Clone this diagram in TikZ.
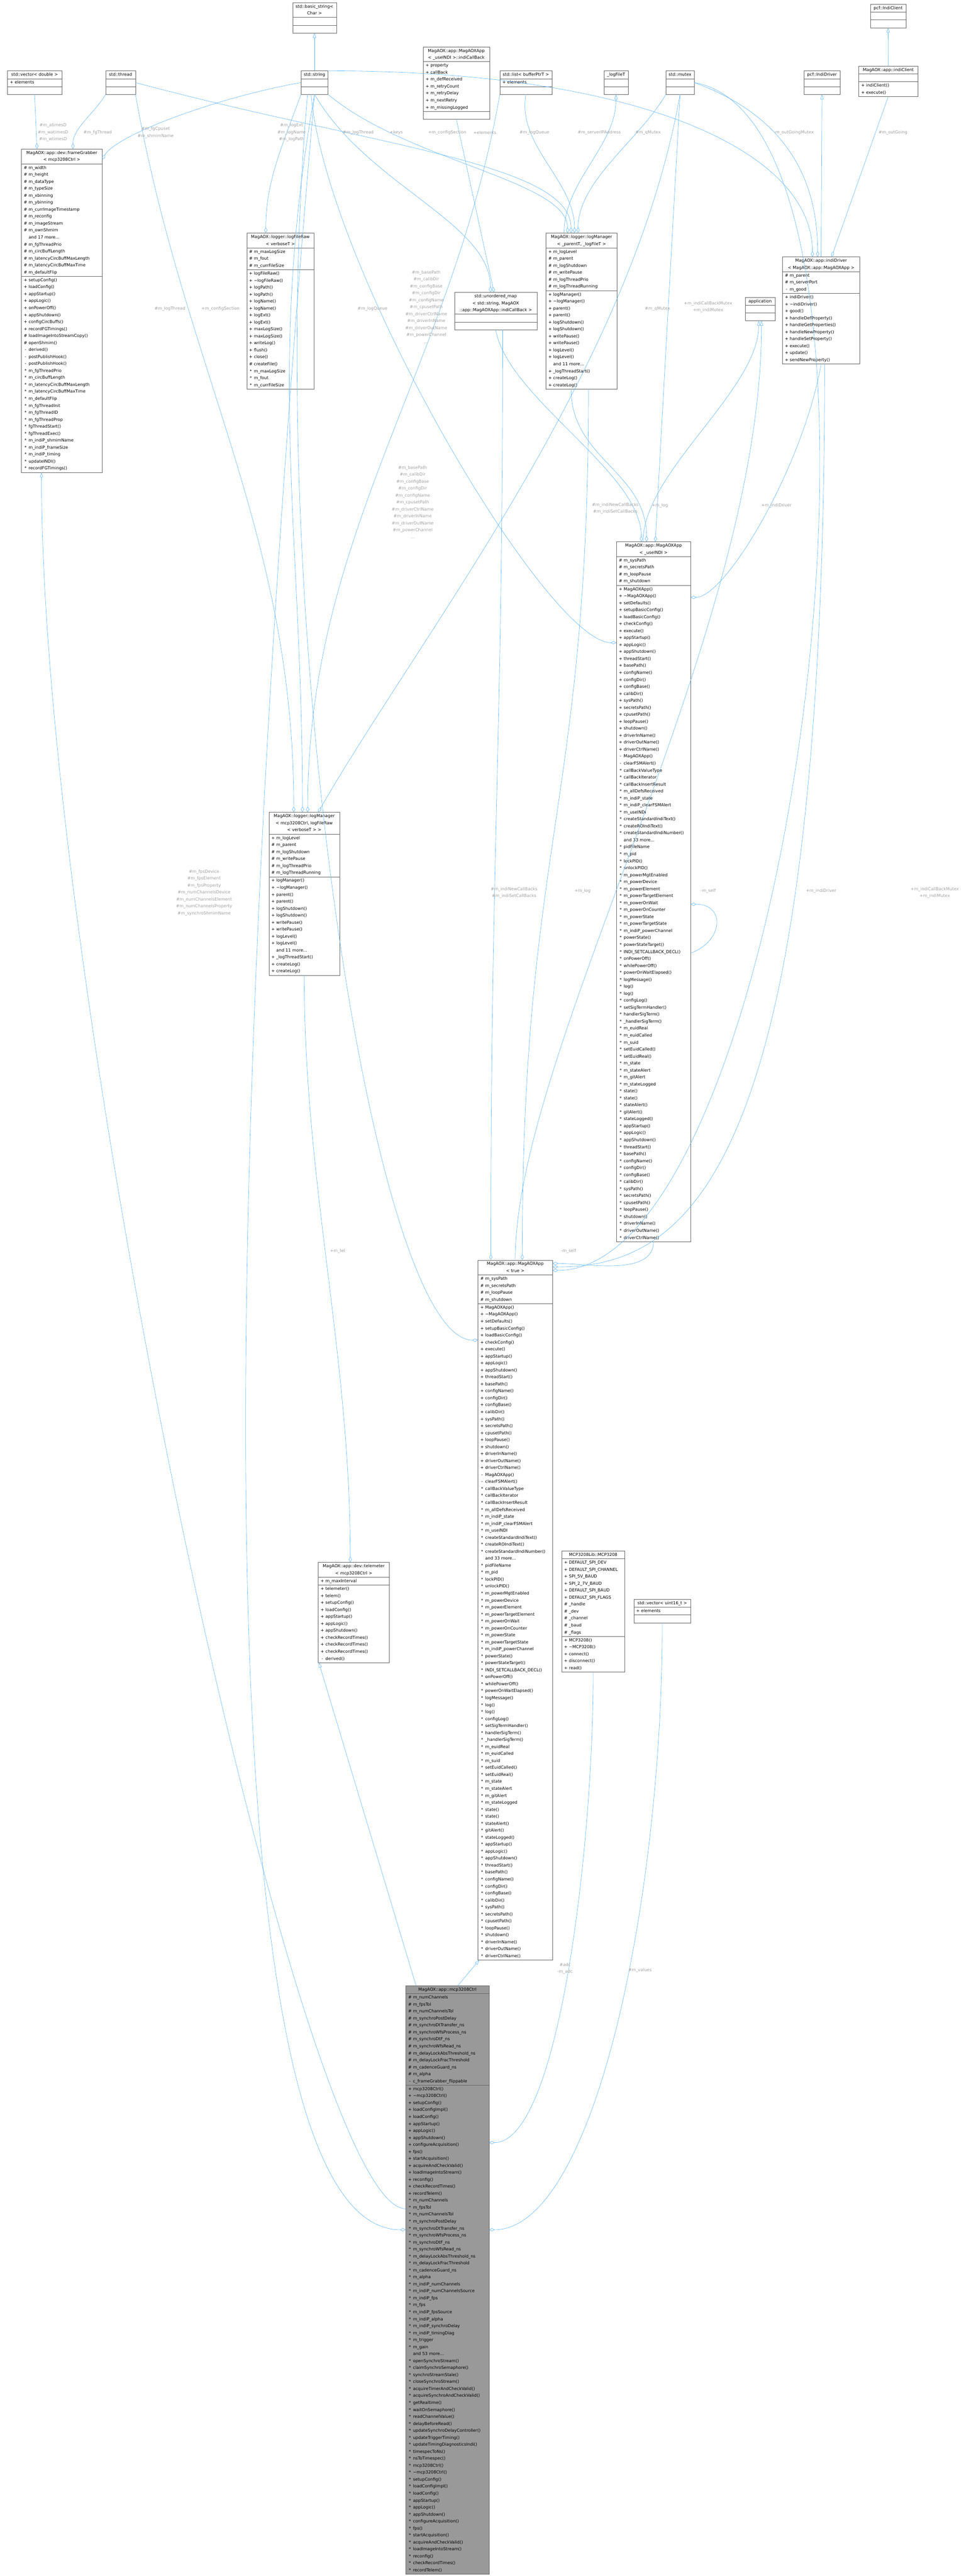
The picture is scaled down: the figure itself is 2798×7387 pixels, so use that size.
\documentclass[tikz,border=0pt]{standalone}
\usepackage{fontspec}
\setmainfont{DejaVu Sans}
\usepackage{tikz}
\usetikzlibrary{arrows.meta,shapes.multipart}
\definecolor{EdgeBlue}{RGB}{99,184,255}
\definecolor{LabelGray}{RGB}{160,160,160}
\definecolor{BoxLine}{RGB}{102,102,102}
\definecolor{CurGray}{RGB}{153,153,153}
\newcommand\clsfont{\fontsize{12}{20}\selectfont}
\newcommand\rw[2]{\strut\makebox[18pt][c]{#1}#2\par}
\newcommand\ttl[1]{{\centering\strut #1\strut\par}}
\newcommand\nil{\strut\par}
\tikzset{
  cls/.style={draw=BoxLine, fill=white, rectangle split, rectangle split parts=3,
    rectangle split draw splits=true, inner xsep=3pt, inner ysep=1pt, font=\clsfont,
    anchor=north west, text width=#1-7pt},
  agg/.style={draw=EdgeBlue, line width=0.9pt, -{Diamond[open,length=16pt,width=9pt]}},
  inh/.style={draw=EdgeBlue, line width=0.9pt, -{Triangle[open,length=14pt,width=9pt]}},
  lbl/.style={text=LabelGray, font=\clsfont, align=center, inner sep=0pt}
}
\begin{document}
\catcode`\_=12
\begin{tikzpicture}[x=1pt,y=-1pt]
\fill[white] (0,0) rectangle (2798,7387);
\useasboundingbox (0,0) rectangle (2798,7387);
% top row
\node[cls=126] (bstr) at (839,7) {\ttl{std::basic_string<\par Char >}\nodepart{two}\nil\nodepart{three}\nil};
\node[cls=157] (vecd) at (21,203) {\ttl{std::vector< double >}\nodepart{two}\rw{+}{elements}\nodepart{three}\nil};
\node[cls=86] (thr) at (303,203) {\ttl{std::thread}\nodepart{two}\nil\nodepart{three}\nil};
\node[cls=78] (str) at (863,203) {\ttl{std::string}\nodepart{two}\nil\nodepart{three}\nil};
\node[cls=191] (icb) at (1213,134) {\ttl{MagAOX::app::MagAOXApp\par < _useINDI >::indiCallBack}\nodepart{two}
 \rw{+}{property}\rw{+}{callBack}\rw{+}{m_defReceived}\rw{+}{m_retryCount}\rw{+}{m_retryDelay}\rw{+}{m_nextRetry}\rw{+}{m_missingLogged}\nodepart{three}\nil};
\node[cls=150] (lst) at (1433,203) {\ttl{std::list< bufferPtrT >}\nodepart{two}\rw{+}{elements}\nodepart{three}\nil};
\node[cls=71] (lft) at (1731,203) {\ttl{_logFileT}\nodepart{two}\nil\nodepart{three}\nil};
\node[cls=82] (mtx) at (1909,203) {\ttl{std::mutex}\nodepart{two}\nil\nodepart{three}\nil};
\node[cls=104] (pidrv) at (2305,203) {\ttl{pcf::IndiDriver}\nodepart{two}\nil\nodepart{three}\nil};
\node[cls=103] (piclt) at (2495,12) {\ttl{pcf::IndiClient}\nodepart{two}\nil\nodepart{three}\nil};
\node[cls=170] (iclt) at (2462,189) {\ttl{MagAOX::app::indiClient}\nodepart{two}\nil\nodepart{three}\rw{+}{indiClient()}\rw{+}{execute()}};
% frame grabber
\node[cls=233] (fg) at (61,427) {\ttl{MagAOX::app::dev::frameGrabber\par < mcp3208Ctrl >}\nodepart{two}
 \rw{\#}{m_width}\rw{\#}{m_height}\rw{\#}{m_dataType}\rw{\#}{m_typeSize}\rw{\#}{m_xbinning}\rw{\#}{m_ybinning}
 \rw{\#}{m_currImageTimestamp}\rw{\#}{m_reconfig}\rw{\#}{m_imageStream}\rw{\#}{m_ownShmim}\rw{}{and 17 more...}
 \rw{\#}{m_fgThreadPrio}\rw{\#}{m_circBuffLength}\rw{\#}{m_latencyCircBuffMaxLength}\rw{\#}{m_latencyCircBuffMaxTime}\rw{\#}{m_defaultFlip}
 \nodepart{three}
 \rw{+}{setupConfig()}\rw{+}{loadConfig()}\rw{+}{appStartup()}\rw{+}{appLogic()}\rw{+}{onPowerOff()}\rw{+}{appShutdown()}
 \rw{+}{configCircBuffs()}\rw{+}{recordFGTimings()}\rw{\#}{loadImageIntoStreamCopy()}\rw{\#}{openShmim()}\rw{-}{derived()}
 \rw{-}{postPublishHook()}\rw{-}{postPublishHook()}\rw{*}{m_fgThreadPrio}\rw{*}{m_circBuffLength}\rw{*}{m_latencyCircBuffMaxLength}
 \rw{*}{m_latencyCircBuffMaxTime}\rw{*}{m_defaultFlip}\rw{*}{m_fgThreadInit}\rw{*}{m_fgThreadID}\rw{*}{m_fgThreadProp}
 \rw{*}{fgThreadStart()}\rw{*}{fgThreadExec()}\rw{*}{m_indiP_shmimName}\rw{*}{m_indiP_frameSize}\rw{*}{m_indiP_timing}
 \rw{*}{updateINDI()}\rw{*}{recordFGTimings()}};
% log file
\node[cls=194] (lfr) at (707,668) {\ttl{MagAOX::logger::logFileRaw\par < verboseT >}\nodepart{two}
 \rw{\#}{m_maxLogSize}\rw{\#}{m_fout}\rw{\#}{m_currFileSize}\nodepart{three}
 \rw{+}{logFileRaw()}\rw{+}{\textasciitilde logFileRaw()}\rw{+}{logPath()}\rw{+}{logPath()}\rw{+}{logName()}\rw{+}{logName()}
 \rw{+}{logExt()}\rw{+}{logExt()}\rw{+}{maxLogSize()}\rw{+}{maxLogSize()}\rw{+}{writeLog()}\rw{+}{flush()}\rw{+}{close()}
 \rw{\#}{createFile()}\rw{*}{m_maxLogSize}\rw{*}{m_fout}\rw{*}{m_currFileSize}};
% log managers
\newcommand\lmattrs{\rw{+}{m_logLevel}\rw{\#}{m_parent}\rw{\#}{m_logShutdown}\rw{\#}{m_writePause}\rw{\#}{m_logThreadPrio}\rw{\#}{m_logThreadRunning}}
\newcommand\lmmeths{\rw{+}{logManager()}\rw{+}{\textasciitilde logManager()}\rw{+}{parent()}\rw{+}{parent()}\rw{+}{logShutdown()}\rw{+}{logShutdown()}
 \rw{+}{writePause()}\rw{+}{writePause()}\rw{+}{logLevel()}\rw{+}{logLevel()}\rw{}{and 11 more...}\rw{+}{_logThreadStart()}\rw{+}{createLog()}\rw{+}{createLog()}}
\node[cls=205] (lmp) at (1565,668) {\ttl{MagAOX::logger::logManager\par < _parentT, _logFileT >}\nodepart{two}\lmattrs\nodepart{three}\lmmeths};
\node[cls=203] (lmm) at (771,2329) {\ttl{MagAOX::logger::logManager\par < mcp3208Ctrl, logFileRaw\par < verboseT > >}\nodepart{two}\lmattrs\nodepart{three}\lmmeths};
% indi driver
\node[cls=223] (idrv) at (2243,736) {\ttl{MagAOX::app::indiDriver\par < MagAOX::app::MagAOXApp >}\nodepart{two}
 \rw{\#}{m_parent}\rw{\#}{m_serverPort}\rw{-}{m_good}\nodepart{three}
 \rw{+}{indiDriver()}\rw{+}{\textasciitilde indiDriver()}\rw{+}{good()}\rw{+}{handleDefProperty()}\rw{+}{handleGetProperties()}
 \rw{+}{handleNewProperty()}\rw{+}{handleSetProperty()}\rw{+}{execute()}\rw{+}{update()}\rw{+}{sendNewProperty()}};
\node[cls=237] (umap) at (1303,838) {\ttl{std::unordered_map\par < std::string, MagAOX\par ::app::MagAOXApp::indiCallBack >}\nodepart{two}\nil\nodepart{three}\nil};
\node[cls=87] (appl) at (2136,852) {\ttl{application}\nodepart{two}\nil\nodepart{three}\nil};
% MagAOXApp
\newcommand\appattrs{\rw{\#}{m_sysPath}\rw{\#}{m_secretsPath}\rw{\#}{m_loopPause}\rw{\#}{m_shutdown}}
\newcommand\appmeths{\rw{+}{MagAOXApp()}\rw{+}{\textasciitilde MagAOXApp()}\rw{+}{setDefaults()}\rw{+}{setupBasicConfig()}
 \rw{+}{loadBasicConfig()}\rw{+}{checkConfig()}\rw{+}{execute()}\rw{+}{appStartup()}\rw{+}{appLogic()}\rw{+}{appShutdown()}
 \rw{+}{threadStart()}\rw{+}{basePath()}\rw{+}{configName()}\rw{+}{configDir()}\rw{+}{configBase()}\rw{+}{calibDir()}
 \rw{+}{sysPath()}\rw{+}{secretsPath()}\rw{+}{cpusetPath()}\rw{+}{loopPause()}\rw{+}{shutdown()}\rw{+}{driverInName()}
 \rw{+}{driverOutName()}\rw{+}{driverCtrlName()}\rw{-}{MagAOXApp()}\rw{-}{clearFSMAlert()}\rw{*}{callBackValueType}
 \rw{*}{callBackIterator}\rw{*}{callBackInsertResult}\rw{*}{m_allDefsReceived}\rw{*}{m_indiP_state}\rw{*}{m_indiP_clearFSMAlert}
 \rw{*}{m_useINDI}\rw{*}{createStandardIndiText()}\rw{*}{createROIndiText()}\rw{*}{createStandardIndiNumber()}\rw{}{and 33 more...}
 \rw{*}{pidFileName}\rw{*}{m_pid}\rw{*}{lockPID()}\rw{*}{unlockPID()}\rw{*}{m_powerMgtEnabled}\rw{*}{m_powerDevice}
 \rw{*}{m_powerElement}\rw{*}{m_powerTargetElement}\rw{*}{m_powerOnWait}\rw{*}{m_powerOnCounter}\rw{*}{m_powerState}
 \rw{*}{m_powerTargetState}\rw{*}{m_indiP_powerChannel}\rw{*}{powerState()}\rw{*}{powerStateTarget()}\rw{*}{INDI_SETCALLBACK_DECL()}
 \rw{*}{onPowerOff()}\rw{*}{whilePowerOff()}\rw{*}{powerOnWaitElapsed()}\rw{*}{logMessage()}\rw{*}{log()}\rw{*}{log()}
 \rw{*}{configLog()}\rw{*}{setSigTermHandler()}\rw{*}{handlerSigTerm()}\rw{*}{_handlerSigTerm()}\rw{*}{m_euidReal}
 \rw{*}{m_euidCalled}\rw{*}{m_suid}\rw{*}{setEuidCalled()}\rw{*}{setEuidReal()}\rw{*}{m_state}\rw{*}{m_stateAlert}
 \rw{*}{m_gitAlert}\rw{*}{m_stateLogged}\rw{*}{state()}\rw{*}{state()}\rw{*}{stateAlert()}\rw{*}{gitAlert()}\rw{*}{stateLogged()}
 \rw{*}{appStartup()}\rw{*}{appLogic()}\rw{*}{appShutdown()}\rw{*}{threadStart()}\rw{*}{basePath()}\rw{*}{configName()}
 \rw{*}{configDir()}\rw{*}{configBase()}\rw{*}{calibDir()}\rw{*}{sysPath()}\rw{*}{secretsPath()}\rw{*}{cpusetPath()}
 \rw{*}{loopPause()}\rw{*}{shutdown()}\rw{*}{driverInName()}\rw{*}{driverOutName()}\rw{*}{driverCtrlName()}}
\node[cls=214] (appT) at (1767,1553) {\ttl{MagAOX::app::MagAOXApp\par < _useINDI >}\nodepart{two}\appattrs\nodepart{three}\appmeths};
\node[cls=215] (appt) at (1370,3613) {\ttl{MagAOX::app::MagAOXApp\par < true >}\nodepart{two}\appattrs\nodepart{three}\appmeths};
% lower boxes
\node[cls=205] (tel) at (912,4480) {\ttl{MagAOX::app::dev::telemeter\par < mcp3208Ctrl >}\nodepart{two}\rw{+}{m_maxInterval}\nodepart{three}
 \rw{+}{telemeter()}\rw{+}{telem()}\rw{+}{setupConfig()}\rw{+}{loadConfig()}\rw{+}{appStartup()}\rw{+}{appLogic()}
 \rw{+}{appShutdown()}\rw{+}{checkRecordTimes()}\rw{+}{checkRecordTimes()}\rw{+}{checkRecordTimes()}\rw{-}{derived()}};
\node[cls=182] (mcp) at (1610,4447) {\ttl{MCP3208Lib::MCP3208}\nodepart{two}
 \rw{+}{DEFAULT_SPI_DEV}\rw{+}{DEFAULT_SPI_CHANNEL}\rw{+}{SPI_5V_BAUD}\rw{+}{SPI_2_7V_BAUD}\rw{+}{DEFAULT_SPI_BAUD}
 \rw{+}{DEFAULT_SPI_FLAGS}\rw{\#}{_handle}\rw{\#}{_dev}\rw{\#}{_channel}\rw{\#}{_baud}\rw{\#}{_flags}\nodepart{three}
 \rw{+}{MCP3208()}\rw{+}{\textasciitilde MCP3208()}\rw{+}{connect()}\rw{+}{disconnect()}\rw{+}{read()}};
\node[cls=164] (vecu) at (1817,4586) {\ttl{std::vector< uint16_t >}\nodepart{two}\rw{+}{elements}\nodepart{three}\nil};
% current class
\newcommand\ctrlattrs[1]{\rw{#1}{m_numChannels}\rw{#1}{m_fpsTol}\rw{#1}{m_numChannelsTol}\rw{#1}{m_synchroPostDelay}
 \rw{#1}{m_synchroDtTransfer_ns}\rw{#1}{m_synchroWfsProcess_ns}\rw{#1}{m_synchroDtF_ns}\rw{#1}{m_synchroWfsRead_ns}
 \rw{#1}{m_delayLockAbsThreshold_ns}\rw{#1}{m_delayLockFracThreshold}\rw{#1}{m_cadenceGuard_ns}\rw{#1}{m_alpha}}
\newcommand\ctrlmeths[1]{\rw{#1}{mcp3208Ctrl()}\rw{#1}{\textasciitilde mcp3208Ctrl()}\rw{#1}{setupConfig()}\rw{#1}{loadConfigImpl()}
 \rw{#1}{loadConfig()}\rw{#1}{appStartup()}\rw{#1}{appLogic()}\rw{#1}{appShutdown()}\rw{#1}{configureAcquisition()}
 \rw{#1}{fps()}\rw{#1}{startAcquisition()}\rw{#1}{acquireAndCheckValid()}\rw{#1}{loadImageIntoStream()}\rw{#1}{reconfig()}
 \rw{#1}{checkRecordTimes()}\rw{#1}{recordTelem()}}
\node[cls=240, fill=CurGray] (ctrl) at (1163,5694) {\ttl{MagAOX::app::mcp3208Ctrl}\nodepart{two}\ctrlattrs{\#}\rw{-}{c_frameGrabber_flippable}
 \nodepart{three}\ctrlmeths{+}\ctrlattrs{*}
 \rw{*}{m_indiP_numChannels}\rw{*}{m_indiP_numChannelsSource}\rw{*}{m_indiP_fps}\rw{*}{m_fps}\rw{*}{m_indiP_fpsSource}
 \rw{*}{m_indiP_alpha}\rw{*}{m_indiP_synchroDelay}\rw{*}{m_indiP_timingDiag}\rw{*}{m_trigger}\rw{*}{m_gain}\rw{}{and 53 more...}
 \rw{*}{openSynchroStream()}\rw{*}{claimSynchroSemaphore()}\rw{*}{synchroStreamStale()}\rw{*}{closeSynchroStream()}
 \rw{*}{acquireTimerAndCheckValid()}\rw{*}{acquireSynchroAndCheckValid()}\rw{*}{getRealtime()}\rw{*}{waitOnSemaphore()}
 \rw{*}{readChannelValue()}\rw{*}{delayBeforeRead()}\rw{*}{updateSynchroDelayController()}\rw{*}{updateTriggerTiming()}
 \rw{*}{updateTimingDiagnosticsIndi()}\rw{*}{timespecToNs()}\rw{*}{nsToTimespec()}\ctrlmeths{*}};
% inheritance
\draw[inh] (str.north) -- (bstr.south);
\draw[inh] (iclt.north) -- (piclt.south);
\draw[inh] ([xshift=-50pt]lmp.north) .. controls +(90:150pt) and +(-90:150pt) .. (lft.south);
\draw[inh] (idrv.north) -- (pidrv.south);
\draw[inh] ([xshift=-30pt]appT.north) .. controls +(90:200pt) and +(-90:200pt) .. ([xshift=-4pt]appl.south);
\draw[inh] (appt.north) .. controls +(90:600pt) and +(-90:900pt) .. ([xshift=4pt]appl.south);
\draw[inh] ([xshift=-90pt]ctrl.north) -- ([xshift=-100pt]tel.south);
\draw[inh] ([xshift=30pt]ctrl.north) -- ([xshift=4pt]appt.south west);
\draw[inh] ([yshift=-640pt]ctrl.north west) .. controls +(180:300pt) and +(-90:1500pt) .. ([xshift=58pt]fg.south west);
% aggregation
\draw[agg] (vecd.south) -- ([xshift=45pt]fg.north west);
\draw[agg] (thr.south west) .. controls +(-120:60pt) and +(90:60pt) .. ([xshift=148pt]fg.north west);
\draw[agg] (str.west) .. controls +(190:250pt) and +(60:80pt) .. ([yshift=-30pt]fg.north east);
\draw[agg] (str.south west) .. controls +(-110:150pt) and +(90:150pt) .. ([xshift=55pt]lfr.north west);
\draw[agg] (thr.east) .. controls +(-15:700pt) and +(90:200pt) .. ([xshift=-30pt]lmp.north);
\draw[agg] (str.south east) .. controls +(-40:300pt) and +(90:150pt) .. ([xshift=-40pt]lmp.north);
\draw[agg] (lst.south) .. controls +(-100:150pt) and +(90:150pt) .. ([xshift=-20pt]lmp.north);
\draw[agg] (mtx.south west) .. controls +(-120:150pt) and +(90:150pt) .. ([xshift=-10pt]lmp.north);
\draw[agg] (str.south) .. controls +(-60:300pt) and +(90:200pt) .. ([xshift=-15pt]umap.north);
\draw[agg] (icb.south) -- ([xshift=-5pt]umap.north);
\draw[agg] (mtx.east) .. controls +(-20:300pt) and +(90:200pt) .. ([xshift=-10pt]idrv.north);
\draw[agg] (str.north east) .. controls +(0:900pt) and +(90:300pt) .. ([xshift=-25pt]idrv.north);
\draw[agg] (iclt.south) -- ([xshift=30pt]idrv.north);
\draw[agg] (thr.south east) .. controls +(-80:800pt) and +(90:800pt) .. ([xshift=-30pt]lmm.north);
\draw[agg] (str.south) .. controls +(-100:800pt) and +(90:800pt) .. ([xshift=-5pt]lmm.north);
\draw[agg] (lst.south west) .. controls +(-100:800pt) and +(90:800pt) .. ([xshift=10pt]lmm.north);
\draw[agg] (mtx.south) .. controls +(-100:800pt) and +(60:600pt) .. ([xshift=40pt]lmm.north);
\draw[agg] ([xshift=-10pt]str.south) .. controls +(-85:500pt) and +(180:200pt) .. ([yshift=-290pt]appT.north west);
\draw[agg] (umap.south) .. controls +(-80:200pt) and +(90:200pt) .. ([xshift=-35pt]appT.north);
\draw[agg] ([xshift=-30pt]lmp.south) .. controls +(-90:200pt) and +(90:200pt) .. ([xshift=-20pt]appT.north);
\draw[agg] (mtx.south) -- ([xshift=5pt]appT.north);
\draw[agg] (idrv.south) .. controls +(-100:300pt) and +(0:100pt) .. ([yshift=-160pt]appT.north east);
\draw[agg] ([yshift=-1180pt]appT.north east) .. controls +(20:100pt) and +(0:100pt) .. ([yshift=-1040pt]appT.north east);
\draw[agg] (lmm.south) .. controls +(-90:600pt) and +(90:600pt) .. ([xshift=-10pt]tel.north);
\draw[agg] ([xshift=20pt]umap.south) .. controls +(-90:1200pt) and +(90:1200pt) .. ([xshift=-70pt]appt.north);
\draw[agg] ([xshift=20pt]lmp.south) .. controls +(-90:1200pt) and +(90:1200pt) .. ([xshift=20pt]appt.north);
\draw[agg] ([xshift=-20pt]str.south) .. controls +(-95:1500pt) and +(180:300pt) .. ([yshift=-230pt]appt.north west);
\draw[agg] (appT.south) .. controls +(-90:100pt) and +(0:100pt) .. ([yshift=-10pt]appt.north east);
\draw[agg] ([xshift=10pt]idrv.south) .. controls +(-90:2300pt) and +(0:400pt) .. ([yshift=-20pt]appt.north east);
\draw[agg] (mtx.east) .. controls +(-10:700pt) and +(0:700pt) .. ([yshift=-30pt]appt.north east);
\draw[agg] (str.south) .. controls +(-95:3000pt) and +(180:600pt) .. ([yshift=-700pt]ctrl.north west);
\draw[agg] (mcp.south) .. controls +(-90:500pt) and +(0:200pt) .. ([yshift=-450pt]ctrl.north east);
\draw[agg] (vecu.south) .. controls +(-90:800pt) and +(0:300pt) .. ([yshift=-700pt]ctrl.north east);
% edge labels
\node[lbl] (l1) at (152,380) {\#m_atimesD\\\#m_watimesD\\\#m_wtimesD};
\node[lbl] (l2) at (280,380) {\#m_fgThread};
\node[lbl] (l3) at (446,380) {\#m_fgCpuset\\\#m_shmimName};
\node[lbl] (l4) at (836,380) {\#m_logExt\\\#m_logName\\\#m_logPath};
\node[lbl] (l5) at (1027,380) {\#m_logThread};
\node[lbl] (l6) at (1136,380) {+keys};
\node[lbl] (l7) at (1282,380) {+m_configSection};
\node[lbl] (l8) at (1390,380) {+elements};
\node[lbl] (l9) at (1532,380) {\#m_logQueue};
\node[lbl] (l10) at (1718,380) {\#m_serverIPAddress};
\node[lbl] (l11) at (1858,380) {\#m_qMutex};
\node[lbl] (l12) at (2276,380) {-m_outGoingMutex};
\node[lbl] (l13) at (2560,380) {\#m_outGoing};
\node[lbl] (l14) at (1222,880) {\#m_basePath\\\#m_calibDir\\\#m_configBase\\\#m_configDir\\\#m_configName\\\#m_cpusetPath\\\#m_driverCtrlName\\\#m_driverInName\\\#m_driverOutName\\\#m_powerChannel\\...};
\node[lbl] (l15) at (487,885) {\#m_logThread};
\node[lbl] (l16) at (632,885) {+m_configSection};
\node[lbl] (l17) at (1068,885) {\#m_logQueue};
\node[lbl] (l18) at (1885,885) {\#m_qMutex};
\node[lbl] (l19) at (2030,880) {+m_indiCallBackMutex\\+m_indiMutex};
\node[lbl] (l20) at (1183,1440) {\#m_basePath\\\#m_calibDir\\\#m_configBase\\\#m_configDir\\\#m_configName\\\#m_cpusetPath\\\#m_driverCtrlName\\\#m_driverInName\\\#m_driverOutName\\\#m_powerChannel\\...};
\node[lbl] (l21) at (1764,1458) {\#m_indiNewCallBacks\\\#m_indiSetCallBacks};
\node[lbl] (l22) at (1892,1450) {+m_log};
\node[lbl] (l23) at (2226,1450) {+m_indiDriver};
\node[lbl] (l24) at (2030,2555) {-m_self};
\node[lbl] (l25) at (2680,2560) {+m_indiCallBackMutex\\+m_indiMutex};
\node[lbl] (l26) at (2354,2555) {+m_indiDriver};
\node[lbl] (l27) at (1670,2555) {+m_log};
\node[lbl] (l28) at (1474,2560) {\#m_indiNewCallBacks\\\#m_indiSetCallBacks};
\node[lbl] (l29) at (585,2560) {\#m_fpsDevice\\\#m_fpsElement\\\#m_fpsProperty\\\#m_numChannelsDevice\\\#m_numChannelsElement\\\#m_numChannelsProperty\\\#m_synchroShmimName};
\node[lbl] (l30) at (968,3587) {+m_tel};
\node[lbl] (l31) at (1630,3587) {-m_self};
\node[lbl] (l32) at (1620,5645) {\#adc\\-m_adc};
\node[lbl] (l33) at (1835,5650) {\#m_values};
\end{tikzpicture}
\end{document}
